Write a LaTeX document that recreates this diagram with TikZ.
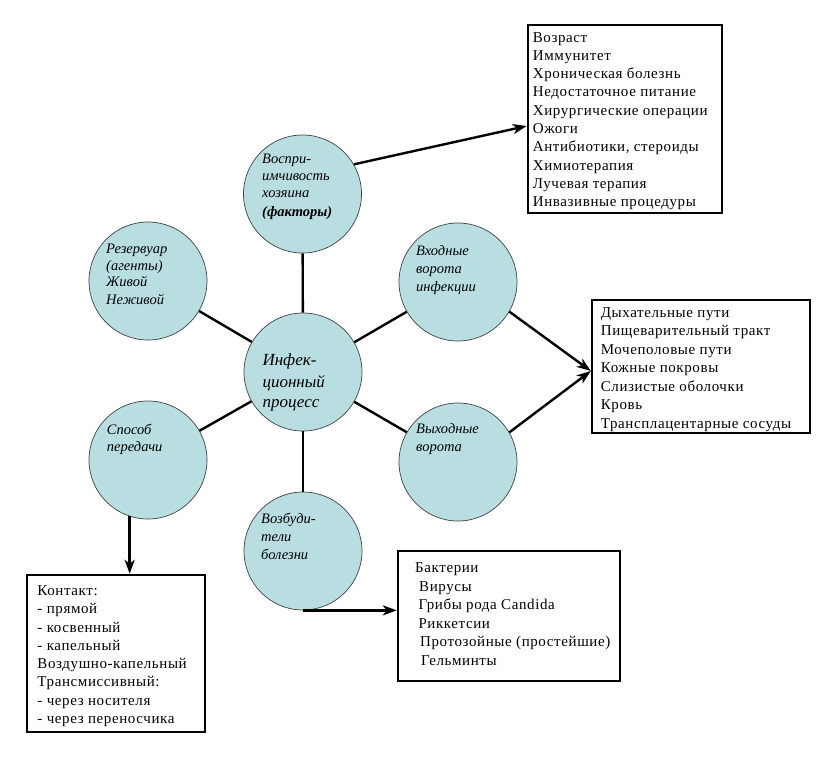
\documentclass[tikz,border=0pt]{standalone}
\usepackage{fontspec}
\setmainfont{Liberation Serif}
\newfontfamily\boxfont[LetterSpace=4]{Liberation Serif}
\usetikzlibrary{arrows.meta,calc}
\definecolor{circfill}{RGB}{185,222,226}
\tikzset{
  circ/.style={circle,draw=black!75,line width=0.7pt,fill=circfill,minimum size=118pt,inner sep=0pt},
  spoke/.style={line width=2.4pt,black},
  arr/.style={line width=2.4pt,black,-{Stealth[length=14pt,width=10pt,inset=4pt]}},
  boxr/.style={draw=black,line width=2.4pt,rectangle,inner sep=0pt},
  btxt/.style={anchor=base west,inner sep=0pt,font=\boxfont\fontsize{15}{17}\selectfont},
  ctxt/.style={anchor=base west,inner sep=0pt,font=\fontsize{14.5}{17}\selectfont\itshape},
  bigtxt/.style={anchor=base west,inner sep=0pt,font=\fontsize{17}{20}\selectfont\itshape}
}
\begin{document}
\begin{tikzpicture}[x=1pt,y=-1pt]
\useasboundingbox (0,0) rectangle (836,756);
% circles
\node[circ] (inf) at (303,372) {};
\node[circ] (vos) at (302.5,194) {};
\node[circ] (rez) at (148,281) {};
\node[circ] (vh) at (458,282) {};
\node[circ] (vyh) at (458,462) {};
\node[circ] (spo) at (148,460) {};
\node[circ] (voz) at (303,551) {};
% spokes
\foreach \o in {vos,rez,vh,vyh,spo,voz} \draw[spoke] (inf) -- (\o);
% boxes
\node[boxr,minimum width=194pt,minimum height=188pt] (fb) at (625,119) {};
\node[boxr,minimum width=218pt,minimum height=133pt] (rb) at (701,366.5) {};
\node[boxr,minimum width=178pt,minimum height=157pt] (lb) at (116,653.5) {};
\node[boxr,minimum width=222pt,minimum height=130pt] (bb) at (509,616) {};
% arrows
\draw[arr] (vos.30) -- ($(fb.west)+(0,7)$);
\draw[arr] (vh.-30) -- ($(rb.west)+(0,4.5)$);
\draw[arr] (vyh.30) -- ($(rb.west)+(0,4.5)$);
\draw[arr] (spo.252) -- (spo.252 |- lb.north);
\draw[arr] (voz.south) -- (voz.south -| bb.west);
% circle texts
\node[ctxt] (t1a) at (262,163.3) {Воспри-};
\node[ctxt] (t1b) at (262,180.5) {имчивость};
\node[ctxt] (t1c) at (262,197.5) {хозяина};
\node[ctxt,font=\fontsize{14.5}{17}\selectfont\itshape\bfseries] (t1d) at (262,216) {(факторы)};
\node[ctxt] (t2a) at (106,253.3) {Резервуар};
\node[ctxt] (t2b) at (106,270) {(агенты)};
\node[ctxt] (t2c) at (106,286.5) {Живой};
\node[ctxt] (t2d) at (106,304) {Неживой};
\node[bigtxt] (t3a) at (262.3,365.7) {Инфек-};
\node[bigtxt] (t3b) at (262.3,387) {ционный};
\node[bigtxt] (t3c) at (262.3,407.3) {процесс};
\node[ctxt] (t4a) at (416,255) {Входные};
\node[ctxt] (t4b) at (416,273.3) {ворота};
\node[ctxt] (t4c) at (416,291.7) {инфекции};
\node[ctxt] (t5a) at (416,433.3) {Выходные};
\node[ctxt] (t5b) at (416,451.7) {ворота};
\node[ctxt] (t6a) at (106.7,434) {Способ};
\node[ctxt] (t6b) at (106.7,451.7) {передачи};
\node[ctxt] (t7a) at (261,523.3) {Возбуди-};
\node[ctxt] (t7b) at (261,541.7) {тели};
\node[ctxt] (t7c) at (261,559.3) {болезни};
% box texts
\foreach \t [count=\i from 0] in {Возраст,Иммунитет,Хроническая болезнь,Недостаточное питание,Хирургические операции,Ожоги,{Антибиотики, стероиды},Химиотерапия,Лучевая терапия,Инвазивные процедуры}
  \node[btxt] (fa\i) at (532.7,42+18.3*\i) {\t};
\foreach \t [count=\i from 0] in {Дыхательные пути,Пищеварительный тракт,Мочеполовые пути,Кожные покровы,Слизистые оболочки,Кровь,Трансплацентарные сосуды}
  \node[btxt] (ra\i) at (600.7,317.3+18.5*\i) {\t};
\foreach \t [count=\i from 0] in {Контакт:,- прямой,- косвенный,- капельный,Воздушно-капельный,Трансмиссивный:,- через носителя,- через переносчика}
  \node[btxt] (la\i) at (37.3,595.7+18.23*\i) {\t};
\node[btxt] (ba0) at (415,572.7) {Бактерии};
\node[btxt] (ba1) at (419,591.2) {Вирусы};
\node[btxt] (ba2) at (418.3,609.7) {Грибы рода Candida};
\node[btxt] (ba3) at (418.3,628.2) {Риккетсии};
\node[btxt] (ba4) at (420,646.7) {Протозойные (простейшие)};
\node[btxt] (ba5) at (421,665.2) {Гельминты};
\end{tikzpicture}
\end{document}
